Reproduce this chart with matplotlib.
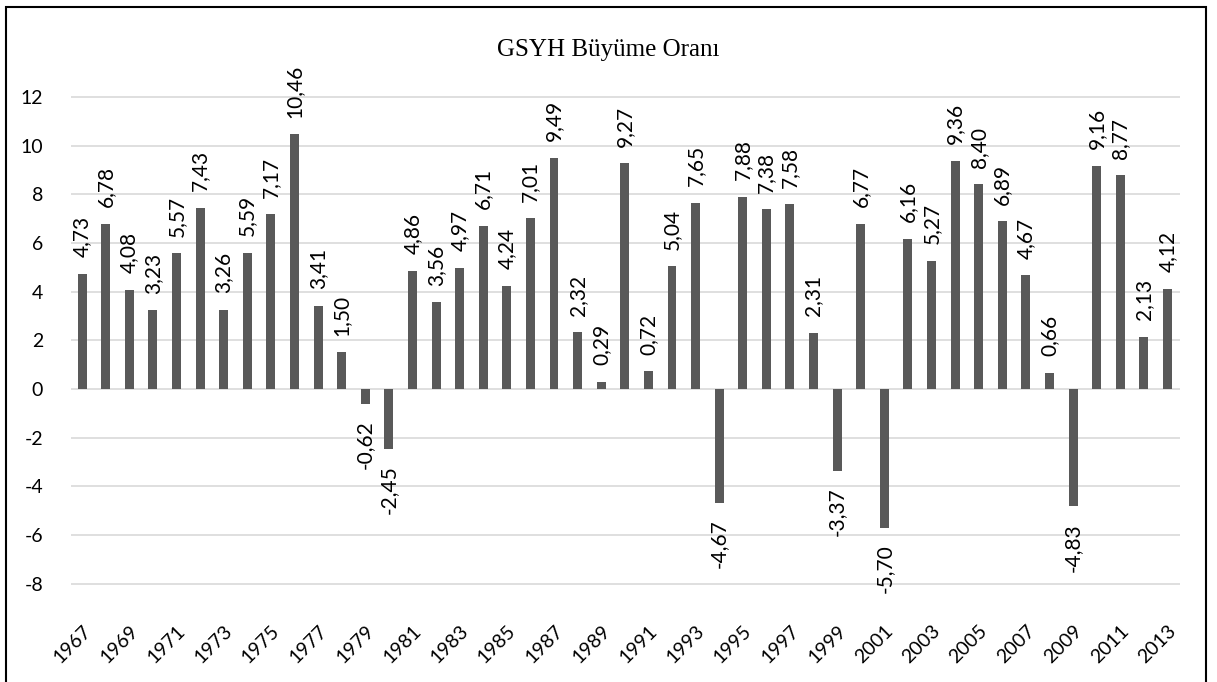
import matplotlib
matplotlib.use("Agg")
import matplotlib.pyplot as plt
from matplotlib.patches import Rectangle

years = list(range(1967, 2014))
growth = [4.73, 6.78, 4.08, 3.23, 5.57, 7.43, 3.26, 5.59, 7.17, 10.46,
          3.41, 1.50, -0.62, -2.45, 4.86, 3.56, 4.97, 6.71, 4.24, 7.01,
          9.49, 2.32, 0.29, 9.27, 0.72, 5.04, 7.65, -4.67, 7.88, 7.38,
          7.58, 2.31, -3.37, 6.77, -5.70, 6.16, 5.27, 9.36, 8.40, 6.89,
          4.67, 0.66, -4.83, 9.16, 8.77, 2.13, 4.12]
title = "GSYH Büyüme Oranı"
yticks = list(range(-8, 13, 2))

W, H = 1217, 682
fig = plt.figure(figsize=(W / 100, H / 100), dpi=100)
font = ["Lato", "DejaVu Sans"]
fs = 14

ax = fig.add_axes([71 / W, (H - 608) / H, 1109 / W, (608 - 72.5) / H])
x = list(range(len(years)))
ax.bar(x, growth, width=0.38, color="#595959", zorder=3)
ax.set_xlim(-0.47, 46.53)
ax.set_ylim(-9, 13)
ax.set_yticks(yticks)
ax.set_yticklabels([str(t) for t in yticks], fontsize=fs, family=font)
ax.yaxis.grid(True, color="#d9d9d9", linewidth=1.2, zorder=0)
ax.tick_params(axis="y", length=0, pad=20)
ax.set_xticks(x[::2])
ax.set_xticklabels([str(y) for y in years[::2]], rotation=45, ha="right",
                   rotation_mode="anchor", fontsize=fs, family=font)
ax.tick_params(axis="x", length=0, pad=10)
for s in ax.spines.values():
    s.set_visible(False)

for xi, v in zip(x, growth):
    lab = f"{v:.2f}".replace(".", ",")
    if v >= 0:
        ax.annotate(lab, (xi, v), xytext=(0, 12), textcoords="offset points",
                    rotation=90, ha="center", va="bottom", fontsize=15, family=font)
    else:
        ax.annotate(lab, (xi, v), xytext=(0, -12), textcoords="offset points",
                    rotation=90, ha="center", va="top", fontsize=15, family=font)

fig.text(0.5, (H - 50) / H, title, ha="center", va="center", fontsize=18,
         family=["Liberation Serif", "DejaVu Serif"])

fig.patches.append(Rectangle((6 / W, -0.01), 1200 / W, (H - 7) / H + 0.01,
                             transform=fig.transFigure, fill=False,
                             edgecolor="black", linewidth=1.5))

fig.savefig("out.png", dpi=100)
